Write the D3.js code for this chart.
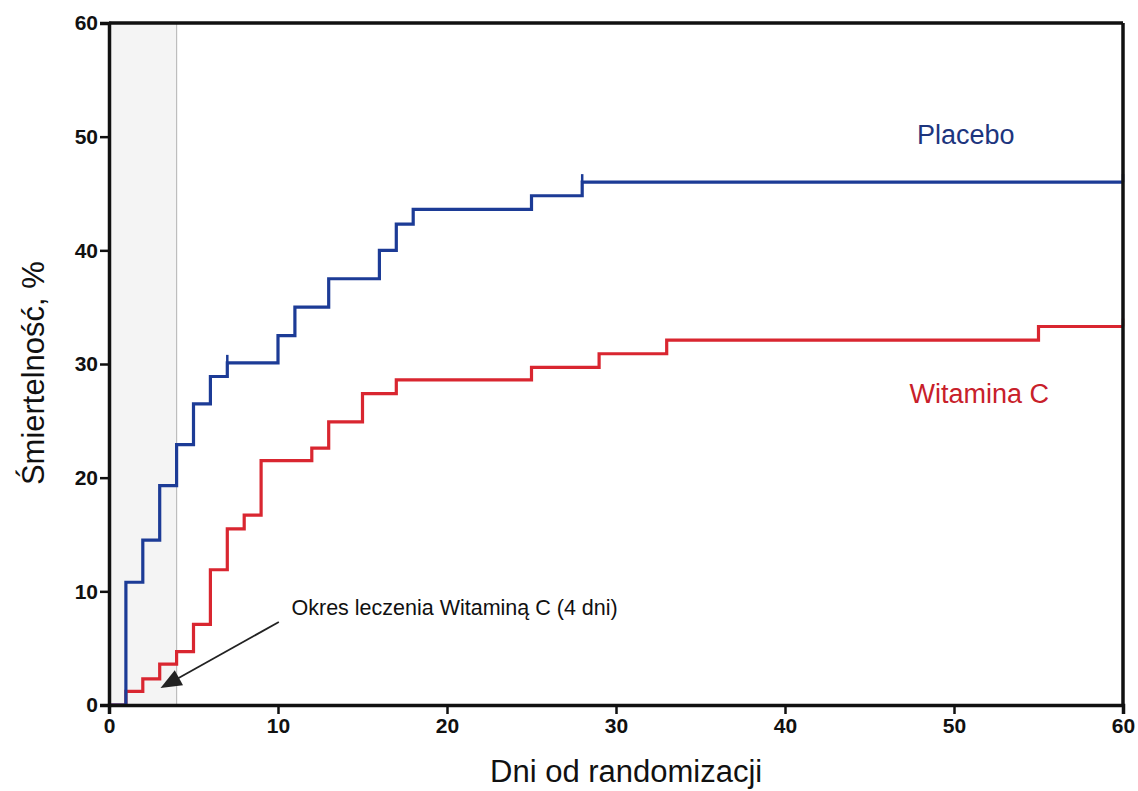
<!DOCTYPE html>
<html>
<head>
<meta charset="utf-8">
<script src="https://cdn.jsdelivr.net/npm/d3@7"></script>
<style>
  body { margin: 0; background: #fff; }
  text { font-family: "Liberation Sans", Arial, sans-serif; }
</style>
</head>
<body>
<div id="chart"></div>
<script>
// data
const placeboDays = [0, 1, 2, 3, 4, 5, 6, 7, 10, 11, 13, 16, 17, 18, 25, 28, 60];
const placeboVals = [0, 10.8, 14.5, 19.3, 22.9, 26.5, 28.9, 30.1, 32.5, 35.0, 37.5, 40.0, 42.3, 43.6, 44.8, 46.0, 46.0];
const vitcDays = [0, 1, 2, 3, 4, 5, 6, 7, 8, 9, 12, 13, 15, 17, 25, 29, 33, 55, 60];
const vitcVals = [0, 1.2, 2.3, 3.6, 4.7, 7.1, 11.9, 15.5, 16.7, 21.5, 22.6, 24.9, 27.4, 28.6, 29.7, 30.9, 32.1, 33.3, 33.3];
const placeboCensor = [7, 28, 60];
const vitcCensor = [60];
const xTicks = [0, 10, 20, 30, 40, 50, 60];
const yTicks = [0, 10, 20, 30, 40, 50, 60];
const treatmentDays = 4;

const svgWidth = 1138;
const svgHeight = 791;
const margin = { top: 23, right: 15, bottom: 86, left: 109 };
const width = svgWidth - margin.left - margin.right;
const height = svgHeight - margin.top - margin.bottom;

const blue = "#1c3b96";
const red = "#d92630";

const svg = d3.select("#chart").append("svg").attr("width", svgWidth).attr("height", svgHeight);
const g = svg.append("g").attr("transform", `translate(${margin.left}, ${margin.top})`);

const x = d3.scaleLinear().domain([0, 60]).range([0, width]);
const y = d3.scaleLinear().domain([0, 60]).range([height, 0]);

// shaded treatment period
g.append("rect")
  .attr("x", x(0)).attr("y", y(60))
  .attr("width", x(treatmentDays) - x(0)).attr("height", y(0) - y(60))
  .attr("fill", "#f4f4f4");
g.append("line")
  .attr("x1", x(treatmentDays)).attr("x2", x(treatmentDays))
  .attr("y1", y(0)).attr("y2", y(60))
  .attr("stroke", "#bdbdbd").attr("stroke-width", 1.2);

const line = d3.line().x(d => x(d[0])).y(d => y(d[1])).curve(d3.curveStepAfter);

function drawSeries(days, vals, censor, color) {
  const pts = days.map((d, i) => [d, vals[i]]);
  g.append("path").datum(pts)
    .attr("d", line)
    .attr("fill", "none")
    .attr("stroke", color)
    .attr("stroke-width", 3.2);
  g.selectAll(null).data(censor).enter().append("line")
    .attr("x1", d => x(d)).attr("x2", d => x(d))
    .attr("y1", d => y(vals[days.indexOf(d)]))
    .attr("y2", d => y(vals[days.indexOf(d)]) - 8)
    .attr("stroke", color).attr("stroke-width", 2.5);
}
drawSeries(vitcDays, vitcVals, vitcCensor, red);
drawSeries(placeboDays, placeboVals, placeboCensor, blue);

// axes
const xAxis = g.append("g").attr("transform", `translate(0, ${height})`)
  .call(d3.axisBottom(x).tickValues(xTicks).tickSize(9).tickPadding(4));
const yAxis = g.append("g")
  .call(d3.axisLeft(y).tickValues(yTicks).tickSize(9).tickPadding(2));
[xAxis, yAxis].forEach(a => {
  a.attr("font-family", null).attr("font-size", null);
  a.select(".domain").attr("stroke", "#111").attr("stroke-width", 3.5);
  a.selectAll(".tick line").attr("stroke", "#111").attr("stroke-width", 2.5);
  a.selectAll(".tick text")
    .style("font-size", "21px").style("font-weight", "bold").attr("fill", "#111");
});
// box top and right
g.append("line").attr("x1", x(0)).attr("x2", x(60)).attr("y1", y(60)).attr("y2", y(60))
  .attr("stroke", "#111").attr("stroke-width", 3.5);
g.append("line").attr("x1", x(60)).attr("x2", x(60)).attr("y1", y(60)).attr("y2", y(0))
  .attr("stroke", "#111").attr("stroke-width", 3.5);

// series labels
g.append("text").attr("x", x(50.7)).attr("y", y(50.2)).attr("dy", "0.35em")
  .attr("text-anchor", "middle").attr("font-size", 27).attr("fill", "#1d357e").text("Placebo");
g.append("text").attr("x", x(51.5)).attr("y", y(27.4)).attr("dy", "0.35em")
  .attr("text-anchor", "middle").attr("font-size", 27).attr("fill", "#c8202a").text("Witamina C");

// annotation arrow
g.append("line")
  .attr("x1", x(10.05)).attr("y1", y(7.3))
  .attr("x2", x(3.3)).attr("y2", y(1.7))
  .attr("stroke", "#222").attr("stroke-width", 1.8);
g.append("path")
  .attr("d", () => {
    const tx = x(3.05), ty = y(1.5);
    const ang = Math.atan2(y(7.3) - ty, x(10.05) - tx);
    const len = 21, w = 8.5;
    const bx = tx + len * Math.cos(ang), by = ty + len * Math.sin(ang);
    const px = -Math.sin(ang) * w, py = Math.cos(ang) * w;
    return `M${tx},${ty} L${bx + px},${by + py} L${bx - px},${by - py} Z`;
  })
  .attr("fill", "#222");
g.append("text").attr("x", x(10.8)).attr("y", y(8.6)).attr("dy", "0.35em")
  .attr("font-size", 21.5).attr("fill", "#111").text("Okres leczenia Witaminą C (4 dni)");

// axis titles
svg.append("text")
  .attr("transform", `translate(44, ${margin.top + y(29.2)}) rotate(-90)`)
  .attr("text-anchor", "middle").attr("font-size", 31).attr("fill", "#111")
  .text("Śmiertelność, %");
svg.append("text")
  .attr("x", margin.left + x(30.6)).attr("y", 782)
  .attr("text-anchor", "middle").attr("font-size", 31).attr("fill", "#111")
  .text("Dni od randomizacji");
</script>
</body>
</html>
